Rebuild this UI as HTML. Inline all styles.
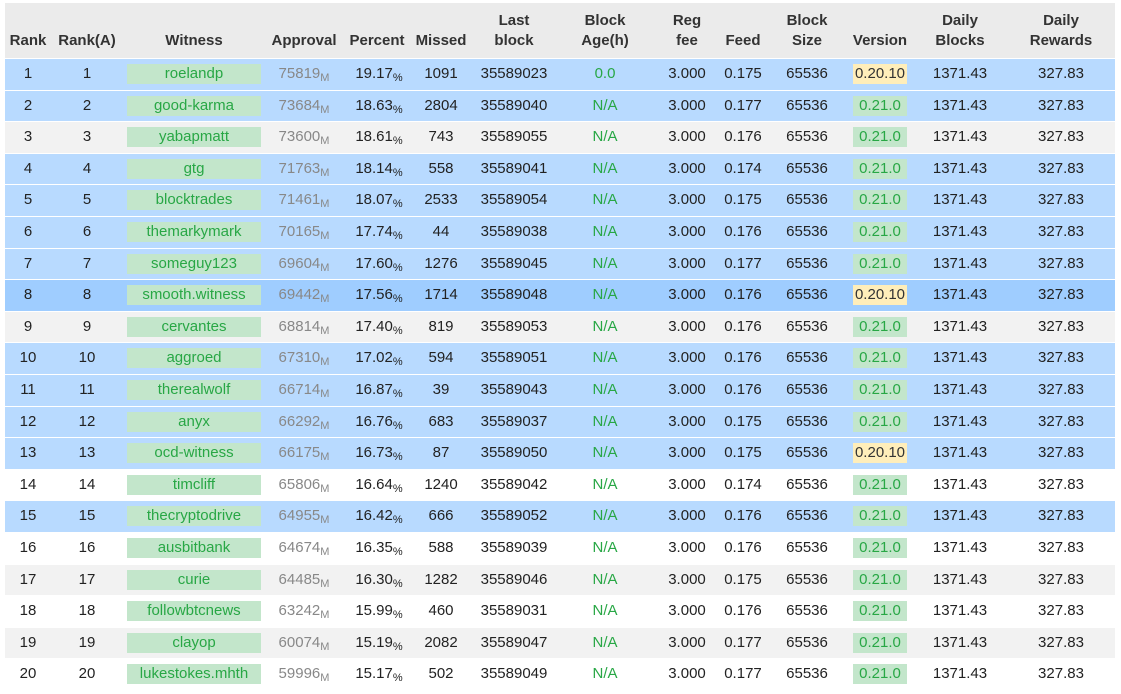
<!DOCTYPE html>
<html><head><meta charset="utf-8"><style>
body{margin:0;width:1121px;height:691px;overflow:hidden;background:#fff;font-family:"Liberation Sans",sans-serif;font-size:15px;color:#222;position:relative}
.c{position:absolute;text-align:center;white-space:nowrap}
.hd{position:absolute;left:5px;top:3px;width:1110px;height:55px;background:#ebebeb}
.hd .c{font-weight:bold;color:#333;line-height:20px}
.row{position:absolute;left:5px;width:1110px;border-top:1px solid #fff}
.w{position:absolute;background:#c3e6cb;color:#28a745;text-align:center}
.v{position:absolute;text-align:center}
.g{color:#888}
sub{font-size:11px;vertical-align:-3px}
</style></head><body>
<div class="hd" id="hd"></div>
<div id="body"></div>
<script>
const witnesses=["roelandp","good-karma","yabapmatt","gtg","blocktrades","themarkymark","someguy123","smooth.witness","cervantes","aggroed","therealwolf","anyx","ocd-witness","timcliff","thecryptodrive","ausbitbank","curie","followbtcnews","clayop","lukestokes.mhth"];
const approval=[75819,73684,73600,71763,71461,70165,69604,69442,68814,67310,66714,66292,66175,65806,64955,64674,64485,63242,60074,59996];
const percent=["19.17","18.63","18.61","18.14","18.07","17.74","17.60","17.56","17.40","17.02","16.87","16.76","16.73","16.64","16.42","16.35","16.30","15.99","15.19","15.17"];
const missed=[1091,2804,743,558,2533,44,1276,1714,819,594,39,683,87,1240,666,588,1282,460,2082,502];
const lastBlock=[35589023,35589040,35589055,35589041,35589054,35589038,35589045,35589048,35589053,35589051,35589043,35589037,35589050,35589042,35589052,35589039,35589046,35589031,35589047,35589049];
const feed=["0.175","0.177","0.176","0.174","0.175","0.176","0.177","0.176","0.176","0.176","0.176","0.175","0.175","0.174","0.176","0.176","0.175","0.176","0.177","0.177"];
const version=["0.20.10","0.21.0","0.21.0","0.21.0","0.21.0","0.21.0","0.21.0","0.20.10","0.21.0","0.21.0","0.21.0","0.21.0","0.20.10","0.21.0","0.21.0","0.21.0","0.21.0","0.21.0","0.21.0","0.21.0"];
const rowColor=["b","b","s","b","b","b","b","d","s","b","b","b","b","w","b","w","s","w","s","w"];
const headers=[["Rank",28],["Rank(A)",87],["Witness",194],["Approval",304],["Percent",377],["Missed",441],["Last<br>block",514],["Block<br>Age(h)",605],["Reg<br>fee",687],["Feed",743],["Block<br>Size",807],["Version",880],["Daily<br>Blocks",960],["Daily<br>Rewards",1061]];
const hd=document.getElementById('hd');
headers.forEach(h=>{const d=document.createElement('div');d.className='c';


d.style.left=(h[1]-5-50)+'px';d.style.width='100px';d.style.bottom='7px';d.innerHTML=h[0];hd.appendChild(d);});
const body=document.getElementById('body');
const colors={b:'#b8daff',d:'#9fcdff',s:'#f2f2f2',w:'#ffffff'};
const RH=31.6,TOP=58;
witnesses.forEach((w,i)=>{
 const r=document.createElement('div');r.className='row';
 
 
 r.style.top=(TOP+i*RH)+'px';r.style.height=(RH-1)+'px';r.style.background=colors[rowColor[i]];
 const lh=(RH-1)+'px';
 function cell(x,html,cls,name){const d=document.createElement('div');d.className='c '+(cls||'');d.style.left=(x-5-60)+'px';d.style.width='120px';d.style.lineHeight=lh;d.style.top='0';d.innerHTML=html;
  
  
  r.appendChild(d);}
 cell(28,i+1,'','rank');
 cell(87,i+1,'','rank-a');
 const wb=document.createElement('div');wb.className='w';wb.style.left='122px';wb.style.width='134px';wb.style.top='5px';wb.style.height='20px';wb.style.lineHeight='20px';wb.textContent=w;
 
 
 r.appendChild(wb);
 cell(304,approval[i]+'<sub>M</sub>','g','approval');
 cell(379,percent[i]+'<sub>%</sub>','','percent');
 cell(441,missed[i],'','missed');
 cell(514,lastBlock[i],'','last-block');
 const age=document.createElement('div');age.className='c';age.style.left=(605-5-60)+'px';age.style.width='120px';age.style.lineHeight=lh;age.style.color='#28a745';age.textContent=i==0?'0.0':'N/A';
 
 
 r.appendChild(age);
 cell(687,'3.000','','reg-fee');
 cell(743,feed[i],'','feed');
 cell(807,'65536','','block-size');
 const vb=document.createElement('div');vb.className='v';const old=version[i]!=='0.21.0';
 vb.style.left=(old?848:848)+'px';vb.style.width='54px';vb.style.top='5px';vb.style.height='20px';vb.style.lineHeight='20px';
 vb.style.background=old?'#ffeeba':'#c3e6cb';vb.style.color=old?'#333':'#28a745';vb.textContent=version[i];
 
 
 r.appendChild(vb);
 cell(960,'1371.43','','daily-blocks');
 cell(1061,'327.83','','daily-rewards');
 body.appendChild(r);
});
</script>
</body></html>
